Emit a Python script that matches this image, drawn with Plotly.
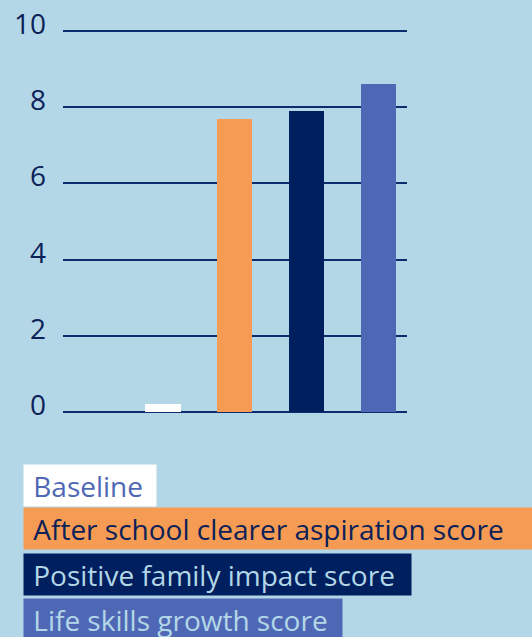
import plotly.graph_objects as go

categories = ["Baseline", "After school clearer aspiration score",
              "Positive family impact score", "Life skills growth score"]
values = [0.2, 7.7, 7.9, 8.6]
bar_colors = ["#ffffff", "#f59b53", "#001f5f", "#4f68b6"]
legend_text_colors = ["#4f68b6", "#0b2158", "#b3d7e6", "#b3d7e6"]
legend_box_widths = [132, 520, 387, 318]
tick_vals = [0, 2, 4, 6, 8, 10]

BG = "#b3d7e6"
GRID = "#0b2d6e"
W, H = 532, 637
L, R, T, B = 63, 125, 29, 223
plot_h = H - T - B

fig = go.Figure()
fig.add_trace(go.Bar(
    x=list(range(len(categories))), y=values,
    marker=dict(color=bar_colors, line=dict(width=0)),
    width=0.49, showlegend=False, hoverinfo="skip",
))

fig.update_layout(
    width=W, height=H,
    margin=dict(l=L, r=R, t=T, b=B, pad=0),
    paper_bgcolor=BG, plot_bgcolor=BG,
    font=dict(family="Open Sans", color="#0b2158"),
    bargap=0,
    xaxis=dict(range=[-1.393, 3.397], showticklabels=False, showgrid=False,
               zeroline=False, showline=False, ticks=""),
    yaxis=dict(range=[-0.0525, 10.0525], tickvals=tick_vals, showticklabels=False,
               showgrid=True, gridcolor=GRID, gridwidth=2,
               zeroline=False, showline=False, ticks=""),
)

annotations = []
for v in tick_vals:
    annotations.append(dict(
        x=0, xref="paper", y=v, yref="y", text=str(v), showarrow=False,
        xanchor="right", yanchor="middle", xshift=-15, yshift=8,
        font=dict(size=28, color="#0b2158", family="Open Sans"),
    ))

def py(px):
    return (H - B - px) / plot_h

def px_x(px):
    return (px - L) / (W - L - R)

box_tops = [464, 507, 553, 598]
for name, bg, fc, bw, top in zip(categories, bar_colors, legend_text_colors,
                                 legend_box_widths, box_tops):
    annotations.append(dict(
        x=px_x(23), xref="paper", y=py(top), yref="paper",
        xanchor="left", yanchor="top", text="&nbsp;" + name, showarrow=False,
        align="left", valign="middle", bgcolor=bg, borderpad=2,
        width=bw - 4, height=41 - 4,
        font=dict(size=28, color=fc, family="Open Sans"),
    ))

fig.update_layout(annotations=annotations)
fig.write_html("out.html", config={"displayModeBar": False},
               post_script="document.body.style.margin='0';document.body.style.padding='0';")
